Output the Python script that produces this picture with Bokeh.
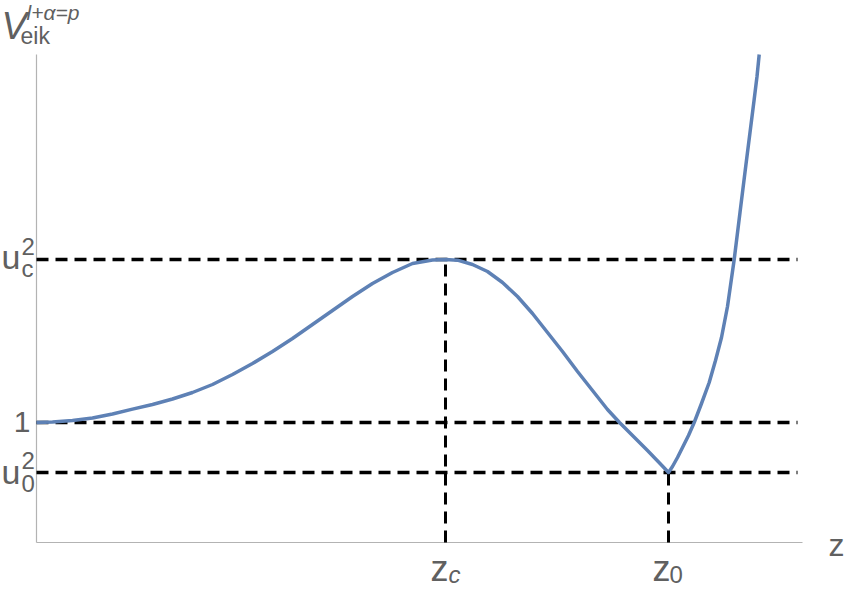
from bokeh.plotting import figure
from bokeh.models import Range1d
from bokeh.core.properties import value
from bokeh.embed import file_html
from bokeh.resources import INLINE

# ---- data ----
z_curve = [0.00, 0.16, 0.36, 0.56, 0.76, 0.96, 1.16, 1.36, 1.56, 1.76, 1.96, 2.16,
           2.36, 2.56, 2.76, 2.96, 3.16, 3.36, 3.56, 3.76, 3.96, 4.09,
           4.21, 4.36, 4.51, 4.66, 4.81, 4.96, 5.11, 5.26, 5.41, 5.56, 5.71, 5.83,
           5.96, 6.11, 6.24, 6.32,
           6.36, 6.41, 6.46, 6.52, 6.577, 6.65, 6.727, 6.79, 6.85, 6.91, 6.977,
           7.035, 7.093, 7.135, 7.177, 7.205, 7.227]
v_curve = [1.000, 1.003, 1.012, 1.027, 1.051, 1.080, 1.108, 1.141, 1.180, 1.228, 1.288, 1.354,
           1.426, 1.504, 1.588, 1.672, 1.756, 1.834, 1.900, 1.954, 1.975, 1.978,
           1.974, 1.948, 1.906, 1.840, 1.756, 1.654, 1.540, 1.426, 1.306, 1.192, 1.078, 1.000,
           0.922, 0.832, 0.751, 0.700,
           0.736, 0.790, 0.850, 0.922, 1.000, 1.114, 1.240, 1.372, 1.510, 1.696, 1.978,
           2.260, 2.540, 2.740, 2.940, 3.076, 3.208]

uc2 = 1.978      # u_c^2 level
one = 1.0        # level 1
u02 = 0.700      # u_0^2 level
z_c = 4.09
z_0 = 6.32

x_axis_min, x_axis_max = 0.0, 7.66
y_axis_min, y_axis_max = 0.28, 3.208
dash_end = 7.61

TXT = "#606060"
FONT = value("Liberation Sans")

p = figure(width=845, height=589, output_backend="svg", toolbar_location=None,
           x_range=Range1d(-0.36, 8.09), y_range=Range1d(-0.002, 3.532),
           min_border=0, background_fill_color="white", border_fill_color="white")
p.axis.visible = False
p.grid.visible = False
p.outline_line_color = None

# axes
p.segment(x0=[x_axis_min, x_axis_min], y0=[y_axis_min, y_axis_min],
          x1=[x_axis_max, x_axis_min], y1=[y_axis_min, y_axis_max],
          line_color="#b3b3b3", line_width=1.2)

# dashed reference lines
p.segment(x0=[x_axis_min] * 3, y0=[uc2, one, u02], x1=[dash_end] * 3, y1=[uc2, one, u02],
          line_color="black", line_width=3.5, line_dash="12 7")
p.segment(x0=[z_c, z_0], y0=[y_axis_min, y_axis_min], x1=[z_c, z_0], y1=[uc2, u02],
          line_color="black", line_width=3, line_dash="12 7")

# curve
p.line(z_curve, v_curve, line_color="#5E81B5", line_width=3.5, line_join="round")


def txt(x, y, s, size, dx, dy, align="left", style="normal"):
    # dy is the wanted baseline offset; compensate for the renderer's baseline shift
    p.text(x=[x], y=[y], text=[s], text_font=FONT, text_font_size=f"{size}px",
           text_color=TXT, text_align=align, text_baseline="alphabetic",
           x_offset=dx, y_offset=dy - 0.36 * size, text_font_style=style)


# y tick labels
txt(x_axis_min, uc2, "u", 34, -16, 10, "right")
txt(x_axis_min, uc2, "2", 24, -15, -4)
txt(x_axis_min, uc2, "c", 24, -15, 18)
txt(x_axis_min, one, "1", 30, -6, 10, "right")
txt(x_axis_min, u02, "u", 34, -16, 12, "right")
txt(x_axis_min, u02, "2", 24, -15, -3)
txt(x_axis_min, u02, "0", 24, -15, 20)

# x tick labels
txt(z_c, y_axis_min, "z", 36, 3, 39, "right")
txt(z_c, y_axis_min, "c", 24, 3, 41, "left", "italic")
txt(z_0, y_axis_min, "z", 36, 2, 39, "right")
txt(z_0, y_axis_min, "0", 24, 1, 41, "left")

# axis labels
txt(x_axis_max, y_axis_min, "z", 32, 26, 14)
txt(x_axis_min, y_axis_max, "V", 38, -35, -15, "left", "italic")
txt(x_axis_min, y_axis_max, "eik", 23, -16, -10)
txt(x_axis_min, y_axis_max, "l+\u03b1=p", 21, -10, -34, "left", "italic")

open("out.html", "w").write(file_html(p, INLINE))
